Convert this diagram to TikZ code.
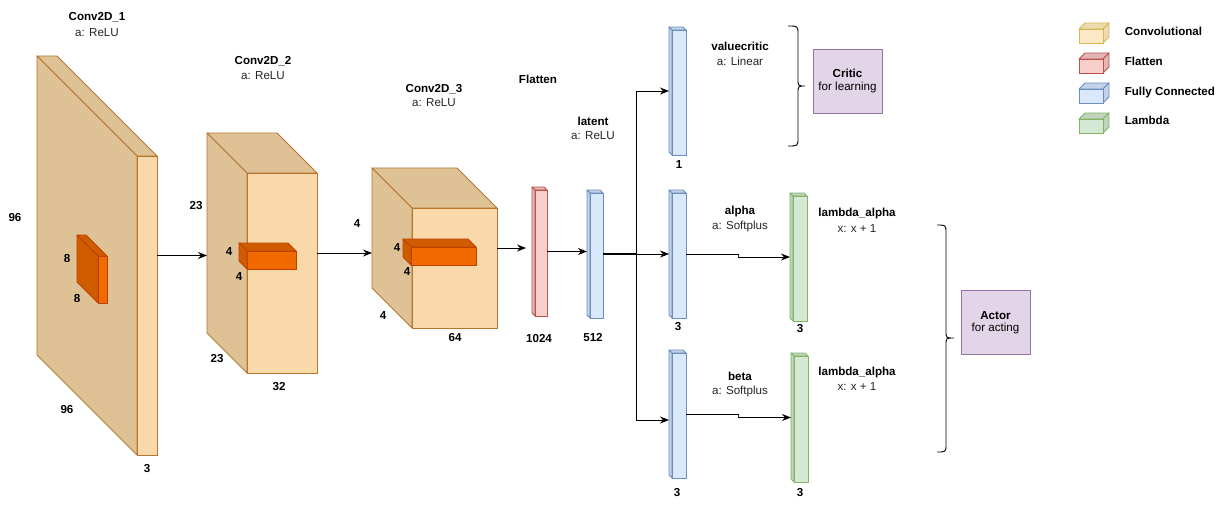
\documentclass[tikz,border=0pt]{standalone}
\usepackage{fontspec}
\setmainfont{Liberation Sans}
\usetikzlibrary{arrows.meta,calc}
\definecolor{convF}{HTML}{F9D8AA}
\definecolor{convS}{HTML}{DFC196}
\definecolor{convD}{HTML}{B7762E}
\definecolor{kerF}{HTML}{F06A00}
\definecolor{kerS}{HTML}{D05C00}
\definecolor{kerD}{HTML}{C04000}
\definecolor{flF}{HTML}{F8CECC}
\definecolor{flS}{HTML}{E3B5B3}
\definecolor{flD}{HTML}{B85450}
\definecolor{fcF}{HTML}{DAE8FC}
\definecolor{fcS}{HTML}{C3D2E8}
\definecolor{fcD}{HTML}{6C8EBF}
\definecolor{lmF}{HTML}{D5E8D4}
\definecolor{lmS}{HTML}{BFD3BE}
\definecolor{lmD}{HTML}{82B366}
\definecolor{lgF}{HTML}{FCE8C4}
\definecolor{lgS}{HTML}{F0DAB0}
\definecolor{lgD}{HTML}{D6B656}
\definecolor{purF}{HTML}{E1D5E7}
\definecolor{purD}{HTML}{9673A6}
% cuboid: name, x, y, w, h, d, front, side, stroke
\newcommand\mycube[9]{%
  \filldraw[fill=#8,draw=#9,line join=round] (#2,#3) -- ({#2+#4-#6},#3) -- ({#2+#4},{#3+#6}) -- ({#2+#6},{#3+#6}) -- cycle;
  \filldraw[fill=#8,draw=#9,line join=round] (#2,#3) -- ({#2+#6},{#3+#6}) -- ({#2+#6},{#3+#5}) -- (#2,{#3+#5-#6}) -- cycle;
  \node[draw=#9,fill=#7,anchor=north west,inner sep=0pt,outer sep=0pt,
        minimum width={(#4-#6)*1pt},minimum height={(#5-#6)*1pt}] (#1) at ({#2+#6},{#3+#6}) {};
  \coordinate (#1-w) at (#2,{#3+#5/2});
  \coordinate (#1-e) at ({#2+#4},{#3+#5/2});
}
% legend icon: name, x, y, front, side, stroke  (30 x 20, depth 6)
\newcommand\legicon[6]{%
  \filldraw[fill=#5,draw=#6,line join=round] (#2,{#3+6}) -- ({#2+6},#3) -- ({#2+30},#3) -- ({#2+24},{#3+6}) -- cycle;
  \filldraw[fill=#5,draw=#6,line join=round] ({#2+24},{#3+6}) -- ({#2+30},#3) -- ({#2+30},{#3+14}) -- ({#2+24},{#3+20}) -- cycle;
  \node[draw=#6,fill=#4,anchor=north west,inner sep=0pt,outer sep=0pt,
        minimum width=24pt,minimum height=14pt] (#1) at (#2,{#3+6}) {};
}
\newcommand\mybrace[6]{% x0, y0, y1, xv, xt, ym
  \draw[line width=0.9pt] (#1,#2) .. controls (#4,#2) .. (#4,{#2+8}) -- (#4,{#6-7})
    .. controls (#4,#6) .. (#5,#6) .. controls (#4,#6) .. (#4,{#6+7}) -- (#4,{#3-8})
    .. controls (#4,#3) .. (#1,#3);
}
\tikzset{
  every node/.style={font=\fontsize{11.6}{13.5}\selectfont},
  bl/.style={font=\fontsize{11.6}{13.5}\selectfont\bfseries},
  rg/.style={font=\fontsize{11.6}{13.5}\selectfont, text=black!85},
  arr/.style={-{Stealth[length=9pt,width=7pt]},line width=0.9pt},
  ln/.style={line width=0.9pt},
  role/.style={draw=purD,fill=purF,line width=0.9pt,minimum width=69pt,minimum height=64pt,inner sep=0pt,align=center}
}
\begin{document}
\begin{tikzpicture}[x=1pt,y=-1pt,line width=0.9pt]
\useasboundingbox (0,0) rectangle (1221,504);
\fill[white] (0,0) rectangle (1221,504);

% conv cubes
\mycube{c1}{37}{56}{120}{399}{100}{convF}{convS}{convD}
\mycube{k1}{77}{235}{30}{68}{21}{kerF}{kerS}{kerD}
\mycube{c2}{207}{133}{110}{240}{40}{convF}{convS}{convD}
\mycube{k2}{239}{243}{57}{26}{8}{kerF}{kerS}{kerD}
\mycube{c3}{372}{168}{125}{160}{40}{convF}{convS}{convD}
\mycube{k3}{403}{239}{73}{26}{8}{kerF}{kerS}{kerD}

% bars
\mycube{fl}{532}{187}{15}{129}{3}{flF}{flS}{flD}
\mycube{lat}{587}{190}{16}{128}{3}{fcF}{fcS}{fcD}
\mycube{vc}{669}{27}{17}{128}{3}{fcF}{fcS}{fcD}
\mycube{al}{669}{190}{17}{128}{3}{fcF}{fcS}{fcD}
\mycube{be}{669}{350}{17}{128}{3}{fcF}{fcS}{fcD}
\mycube{la1}{790}{193}{17}{128}{3}{lmF}{lmS}{lmD}
\mycube{la2}{791}{353}{17}{129}{3}{lmF}{lmS}{lmD}

% labels conv1
\node[bl] (t1) at (97,17) {Conv2D\_1};
\node[rg] (t1a) at (97,33) {a: ReLU};
\node[bl] at (15,218) {96};
\node[bl] at (67,259) {8};
\node[bl] at (77,299) {8};
\node[bl] at (67,409) {96};
\node[bl] at (147,469) {3};
% conv2
\node[bl] (t2) at (263,61) {Conv2D\_2};
\node[rg] (t2a) at (263,76) {a: ReLU};
\node[bl] at (196,206) {23};
\node[bl] at (229,252) {4};
\node[bl] at (239,277) {4};
\node[bl] at (217,359) {23};
\node[bl] at (279,387) {32};
% conv3
\node[bl] (t3) at (434,89) {Conv2D\_3};
\node[rg] (t3a) at (434,103) {a: ReLU};
\node[bl] at (357,224) {4};
\node[bl] at (397,248) {4};
\node[bl] at (407,272) {4};
\node[bl] at (383,316) {4};
\node[bl] at (455,337) {64};
% flatten / latent
\node[bl] (tf) at (538,79) {Flatten};
\node[bl] at (539,338) {1024};
\node[bl] (tl) at (593,121) {latent};
\node[rg] at (593,136) {a: ReLU};
\node[bl] at (593,337) {512};
% heads
\node[bl] (tv) at (740,46) {valuecritic};
\node[rg] at (740,61) {a: Linear};
\node[bl] at (679,165) {1};
\node[bl] (ta) at (740,211) {alpha};
\node[rg] at (740,226) {a: Softplus};
\node[bl] at (678,327) {3};
\node[bl] (tla1) at (857,213) {lambda\_alpha};
\node[rg] at (857,229) {x: x + 1};
\node[bl] at (800,329) {3};
\node[bl] (tb) at (740,376) {beta};
\node[rg] at (740,391) {a: Softplus};
\node[bl] at (677,493) {3};
\node[bl] (tla2) at (857,372) {lambda\_alpha};
\node[rg] at (857,387) {x: x + 1};
\node[bl] at (800,493) {3};

% connectors
\draw[arr] (c1-e) -- (c1-e -| c2-w);
\draw[arr] (c2-e) -- (c2-e -| c3-w);
\draw[arr,shorten >=6pt] (c3-e) -- (c3-e -| fl-w);
\draw[arr] (fl-e) -- (fl-e -| lat-w);
\coordinate (split) at (636,254);
\draw[line width=1.7pt] (lat-e) -- (split);
\draw[arr] (split) |- (vc-w);
\draw[arr] (split) -- (al-w);
\draw[arr] (split) |- ($(be-w)+(0,6)$);
\coordinate (j1) at (738,256);
\coordinate (j2) at (738,416);
\draw[arr] (al-e) -| (j1) |- (la1-w);
\draw[arr] (be-e) -| (j2) |- (la2-w);

% braces and roles
\mybrace{788}{26}{146}{798}{805}{86}
\node[role] (critic) at (847.5,81) {\textbf{Critic}\\[-1pt]for learning};
\mybrace{937}{225}{452}{946}{954}{338}
\node[role] (actor) at (995.5,322.5) {\textbf{Actor}\\[-1pt]for acting};

% legend
\legicon{lg1}{1079}{23}{lgF}{lgS}{lgD}
\legicon{lg2}{1079}{53}{flF}{flS}{flD}
\legicon{lg3}{1079}{83}{fcF}{fcS}{fcD}
\legicon{lg4}{1079}{113}{lmF}{lmS}{lmD}
\node[bl,anchor=west] at (1121,31) {Convolutional};
\node[bl,anchor=west] at (1121,61) {Flatten};
\node[bl,anchor=west] at (1121,92) {Fully Connected};
\node[bl,anchor=west] at (1121,120) {Lambda};
\end{tikzpicture}
\end{document}
